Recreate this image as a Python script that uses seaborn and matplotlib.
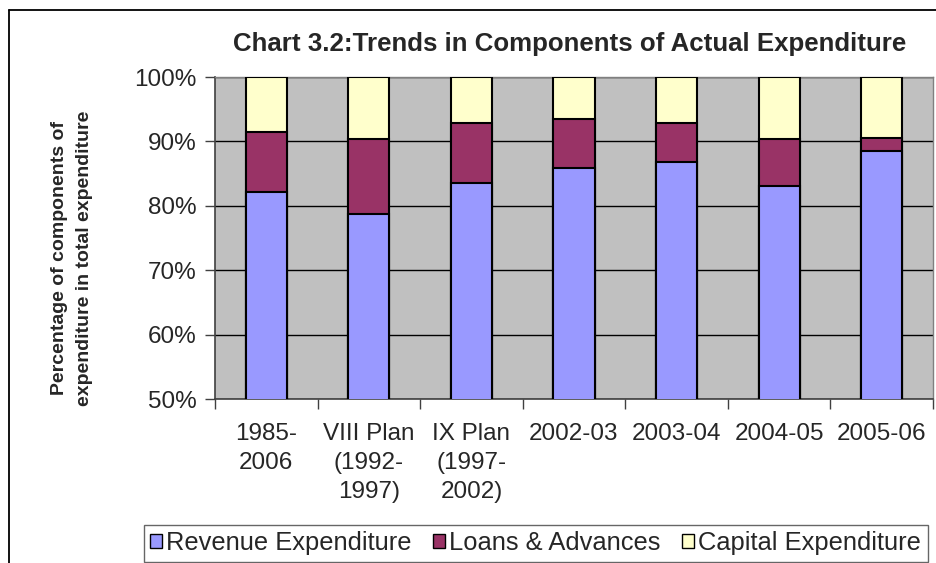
#!/usr/bin/env python3

import pandas as pd
import matplotlib
matplotlib.use('Agg')
import matplotlib.pyplot as plt
from matplotlib.lines import Line2D
from matplotlib.patches import Patch
from matplotlib.ticker import FixedLocator, PercentFormatter
import seaborn as sns

# Data (share of total expenditure, %)
periods = ['1985-\n2006', 'VIII Plan\n(1992-\n1997)', 'IX Plan\n(1997-\n2002)',
           '2002-03', '2003-04', '2004-05', '2005-06']
revenue = [82.1, 78.8, 83.5, 85.9, 86.8, 83.0, 88.5]
loans = [9.4, 11.5, 9.3, 7.6, 6.0, 7.3, 2.0]
capital = [8.5, 9.7, 7.2, 6.5, 7.2, 9.7, 9.5]

series_names = ['Revenue Expenditure', 'Loans & Advances', 'Capital Expenditure']
colors = ['#9999FF', '#993366', '#FFFFCC']

df = pd.DataFrame({'period': periods, 'revenue': revenue,
                   'loans': loans, 'capital': capital})
# cumulative tops for the stacked look
df['top_rev'] = df['revenue']
df['top_loans'] = df['revenue'] + df['loans']
df['top_cap'] = df['top_loans'] + df['capital']

sns.set_theme(style='white')
plt.rcParams['font.family'] = ['Liberation Sans', 'DejaVu Sans']

fig = plt.figure(figsize=(9.36, 5.63), dpi=100)
ax = fig.add_axes([215 / 936, 1 - 399 / 563, 718 / 936, 322 / 563])
ax.set_facecolor('#C0C0C0')

bar_kw = dict(width=0.4, edgecolor='black', linewidth=1.5, saturation=1, zorder=3)
sns.barplot(data=df, x='period', y='top_cap', color=colors[2], ax=ax, **bar_kw)
sns.barplot(data=df, x='period', y='top_loans', color=colors[1], ax=ax, **bar_kw)
sns.barplot(data=df, x='period', y='top_rev', color=colors[0], ax=ax, **bar_kw)

ax.set_ylim(50, 100)
ax.set_xlim(-0.5, len(periods) - 0.5)
ax.yaxis.set_major_locator(FixedLocator([50, 60, 70, 80, 90, 100]))
ax.yaxis.set_major_formatter(PercentFormatter(decimals=0))
ax.grid(axis='y', color='black', linewidth=1, zorder=0)
ax.set_axisbelow(True)

# x ticks between categories, labels centred under bars
ax.set_xticks([i - 0.5 for i in range(len(periods) + 1)])
ax.set_xticklabels([])
ax.set_xticks(range(len(periods)), minor=True)
ax.set_xticklabels(periods, minor=True, fontsize=17.5, linespacing=1.42, va='top')
ax.tick_params(axis='x', which='minor', length=0, pad=17)
ax.tick_params(axis='x', which='major', direction='out', length=7, width=1, color='#404040', bottom=True)
ax.tick_params(axis='y', direction='out', length=7, width=1, color='#404040', left=True,
               labelsize=17.5, pad=6)

for side in ['left', 'bottom']:
    ax.spines[side].set_color('#404040')
    ax.spines[side].set_linewidth(1.2)
for side in ['top', 'right']:
    ax.spines[side].set_color('#808080')
    ax.spines[side].set_linewidth(1)

ax.set_xlabel('')
ax.set_ylabel('')
fig.text(72 / 936, 1 - 258 / 563, 'Percentage of components of\nexpenditure in total expenditure',
         rotation=90, ha='center', va='center', fontsize=14, fontweight='bold',
         linespacing=1.55, multialignment='center')

fig.text(570 / 936, 1 - 44 / 563, 'Chart 3.2:Trends in Components of Actual Expenditure',
         ha='center', va='center', fontsize=18.6, fontweight='bold')

handles = [Patch(facecolor=c, edgecolor='black', linewidth=1) for c in colors]
leg = fig.legend(handles, series_names, loc='upper left',
                 bbox_to_anchor=(144 / 936, 1 - 525 / 563), ncol=3, fontsize=18.4,
                 frameon=True, fancybox=False, borderpad=0.25, handlelength=0.47,
                 handleheight=0.47, handletextpad=0.15, columnspacing=0.85,
                 borderaxespad=0)
leg.get_frame().set_edgecolor('#404040')
leg.get_frame().set_linewidth(1)

# outer chart border (top and left visible)
fig.add_artist(Line2D([9 / 936, 1], [1 - 9.5 / 563] * 2, color='black', linewidth=1.3))
fig.add_artist(Line2D([9 / 936] * 2, [0, 1 - 9.5 / 563], color='black', linewidth=1.3))

fig.savefig('out.png', dpi=100, facecolor='white')
